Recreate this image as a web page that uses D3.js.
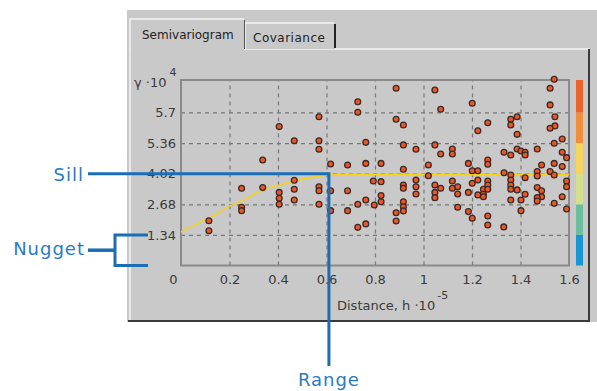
<!DOCTYPE html>
<html lang="en">
<head>
<meta charset="utf-8">
<title>Semivariogram</title>
<script src="https://d3js.org/d3.v7.min.js"></script>
<style>
  body { margin: 0; background: #fff; }
  svg text { font-family: "DejaVu Sans", sans-serif; }
</style>
</head>
<body>
<div id="chart"></div>
<script>
// binned semivariogram values: distance (x10^-5) and gamma (x10^4)
var distances = [
  0.337, 0.25, 0.337, 0.25, 0.25, 0.115, 0.115,
  0.729, 0.729, 0.569, 0.405, 0.467, 0.569, 0.569, 0.762, 0.617, 0.687, 0.762,
  0.467, 0.467, 0.467, 0.405, 0.405, 0.405, 0.569, 0.569, 0.569, 0.617, 0.687,
  0.617, 0.687, 0.729, 0.762, 0.762, 0.729,
  0.887, 1.047, 1.071, 0.887, 0.917, 0.917, 1.047, 0.969, 1.071, 1.119, 1.119,
  0.825, 1.020, 0.917, 1.185, 1.020, 0.793, 0.825, 0.917, 0.917, 0.969, 0.969,
  0.969, 1.047, 1.047, 1.047, 1.071, 1.119, 1.119, 1.141, 1.141, 1.185, 0.825,
  0.825, 0.797, 0.917, 0.917, 0.917, 0.887, 0.887, 1.141, 1.185,
  1.539, 1.522, 1.201, 1.522, 1.386, 1.360, 1.360, 1.542, 1.265, 1.542, 1.522,
  1.224, 1.386, 1.572, 1.539, 1.469, 1.386, 1.402, 1.419, 1.419, 1.332, 1.360,
  1.572, 1.590, 1.265, 1.265, 1.539, 1.487, 1.572, 1.201, 1.224, 1.332, 1.469,
  1.469, 1.522, 1.539, 1.360, 1.360, 1.360, 1.360, 1.419, 1.224, 1.201, 1.265,
  1.265, 1.590, 1.590, 1.469, 1.247, 1.265, 1.247, 1.386, 1.487, 1.487, 1.224,
  1.247, 1.419, 1.469, 1.469, 1.572, 1.360, 1.402, 1.539, 1.590, 1.402, 1.201,
  1.265, 1.265, 1.331
];
var gammas = [
  4.62, 3.38, 3.41, 2.55, 2.40, 1.96, 1.52,
  7.17, 6.71, 6.51, 6.08, 5.46, 5.46, 5.09, 5.39, 4.44, 4.40, 4.47,
  3.73, 3.34, 2.87, 3.20, 2.94, 2.68, 3.45, 3.27, 2.68, 3.27, 3.27,
  2.40, 2.40, 2.68, 2.87, 1.82, 1.67,
  7.76, 7.68, 6.84, 6.40, 6.15, 5.28, 5.28, 5.09, 4.88, 5.10, 4.88,
  4.47, 4.40, 4.21, 4.47, 3.93, 3.70, 3.67, 3.52, 3.38, 3.74, 3.45,
  3.13, 3.52, 3.20, 2.97, 3.38, 3.70, 3.38, 3.45, 3.13, 3.20, 3.06,
  2.79, 2.65, 2.79, 2.57, 2.39, 2.31, 1.95, 2.55, 2.36,
  8.15, 7.76, 7.10, 7.03, 6.51, 6.40, 6.15, 6.51, 6.25, 6.11, 6.01,
  5.90, 5.74, 5.54, 5.35, 5.10, 5.10, 5.01, 4.96, 4.84, 4.96, 4.84,
  4.96, 4.72, 4.62, 4.43, 4.47, 4.40, 4.33, 4.15, 4.15, 4.06, 4.11,
  3.92, 4.11, 3.96, 3.96, 3.74, 3.52, 3.34, 3.84, 3.74, 3.60, 3.70,
  3.52, 3.70, 3.45, 3.41, 3.34, 3.34, 3.12, 3.31, 3.27, 3.01, 3.09,
  3.01, 3.12, 2.97, 2.82, 3.01, 2.87, 2.87, 2.72, 2.47, 2.40, 2.07,
  2.17, 1.77, 1.69
];

// fitted model curve
var modelH     = [0, 0.04, 0.08, 0.12, 0.16, 0.20, 0.25, 0.30, 0.35, 0.40, 0.45, 0.50, 0.55, 0.60, 0.65, 1.60];
var modelGamma = [1.46, 1.68, 1.90, 2.08, 2.36, 2.60, 2.82, 3.12, 3.38, 3.50, 3.66, 3.78, 3.88, 3.96, 3.98, 3.98];

var xTicks = [0, 0.2, 0.4, 0.6, 0.8, 1, 1.2, 1.4, 1.6];
var xTickLabels = ["0", "0.2", "0.4", "0.6", "0.8", "1", "1.2", "1.4", "1.6"];
var yTicks = [1.34, 2.68, 4.02, 5.36, 6.70];
var yTickLabels = ["1.34", "2.68", "4.02", "5.36", "5.7"];

var legendBreaks = [0, 1.34, 2.68, 4.02, 5.36, 6.70, 8.12];
var legendColors = ["#1798d4", "#6abf9c", "#d6df8c", "#f7d45c", "#f28d3a", "#ec6329"];

var sillValue = 4.02;
var rangeValue = 0.61;
var nuggetValue = 1.34;

var w = 597, h = 391;
var blue = "#1b6db6", textBlue = "#2a7bc3";

var svg = d3.select("#chart").append("svg")
    .attr("width", w)
    .attr("height", h);

svg.append("rect").attr("width", w).attr("height", h).attr("fill", "#fff");

// window + tab page
svg.append("rect").attr("x", 127).attr("y", 10).attr("width", 470).attr("height", 312).attr("fill", "#c9c9c9");
svg.append("path").attr("d", "M130,321V49H589").attr("fill", "none").attr("stroke", "#f4f4f4").attr("stroke-width", 1.5);
svg.append("path").attr("d", "M589,49V321H128").attr("fill", "none").attr("stroke", "#3a3a3a").attr("stroke-width", 2);

// tabs
svg.append("path").attr("d", "M245,49V23H335V49").attr("fill", "#c9c9c9").attr("stroke", "none");
svg.append("path").attr("d", "M245,49V23H334").attr("fill", "none").attr("stroke", "#f4f4f4").attr("stroke-width", 1.5);
svg.append("path").attr("d", "M335,24V48").attr("fill", "none").attr("stroke", "#222").attr("stroke-width", 2);
svg.append("path").attr("d", "M130,50V19H244").attr("fill", "#c9c9c9").attr("stroke", "#f4f4f4").attr("stroke-width", 1.5);
svg.append("path").attr("d", "M244.5,20V49").attr("fill", "none").attr("stroke", "#555").attr("stroke-width", 1);
svg.append("line").attr("x1", 131).attr("x2", 244).attr("y1", 49).attr("y2", 49).attr("stroke", "#c9c9c9").attr("stroke-width", 2);
svg.append("text").attr("x", 142).attr("y", 39).attr("font-size", 12).attr("fill", "#222").text("Semivariogram");
svg.append("text").attr("x", 253).attr("y", 42).attr("font-size", 12).attr("letter-spacing", 0.5).attr("fill", "#222").text("Covariance");

var xScale = d3.scaleLinear().domain([0, 1.6]).range([181, 569]);
var yScale = d3.scaleLinear().domain([0, 8.12]).range([265.5, 80]);

// grid
var gridX = d3.axisBottom(xScale).tickValues(xTicks.slice(1, -1)).tickSize(-(265.5 - 80)).tickFormat("");
svg.append("g").attr("transform", "translate(0,265.5)").call(gridX)
   .call(function(g) {
     g.select(".domain").remove();
     g.selectAll("line").attr("stroke", "#777").attr("stroke-width", 1.2).attr("stroke-dasharray", "4,4");
   });
var gridY = d3.axisLeft(yScale).tickValues(yTicks).tickSize(-(569 - 181)).tickFormat("");
svg.append("g").attr("transform", "translate(181,0)").call(gridY)
   .call(function(g) {
     g.select(".domain").remove();
     g.selectAll("line").attr("stroke", "#777").attr("stroke-width", 1.2).attr("stroke-dasharray", "4,4");
   });

svg.append("rect").attr("x", 181).attr("y", 80).attr("width", 388).attr("height", 185.5)
   .attr("fill", "none").attr("stroke", "#8a8a8a").attr("stroke-width", 2);

// tick labels
var xAxis = d3.axisBottom(xScale).tickValues(xTicks).tickSize(0).tickPadding(9)
    .tickFormat(function(d, i) { return xTickLabels[i]; });
svg.append("g").attr("class", "axis").attr("transform", "translate(0,266)").call(xAxis)
   .call(function(g) {
     g.select(".domain").remove();
     g.selectAll("text").attr("font-size", 13).attr("fill", "#3a3a3a").attr("font-family", "DejaVu Sans");
     g.select(".tick text").attr("dx", -8);
   });
var yAxis = d3.axisLeft(yScale).tickValues(yTicks).tickSize(0).tickPadding(5)
    .tickFormat(function(d, i) { return yTickLabels[i]; });
svg.append("g").attr("class", "axis").attr("transform", "translate(181,0)").call(yAxis)
   .call(function(g) {
     g.select(".domain").remove();
     g.selectAll("text").attr("font-size", 13).attr("fill", "#3a3a3a").attr("font-family", "DejaVu Sans");
   });

// axis titles
var yt = svg.append("text").attr("x", 134).attr("y", 87).attr("font-size", 13).attr("fill", "#3a3a3a");
yt.append("tspan").text("γ ·10");
yt.append("tspan").attr("dx", 3).attr("dy", -11).attr("font-size", 11).text("4");
var xt = svg.append("text").attr("x", 337).attr("y", 310).attr("font-size", 13).attr("fill", "#3a3a3a");
xt.append("tspan").text("Distance, h ·10");
xt.append("tspan").attr("dx", 2).attr("dy", -11).attr("font-size", 11).text("-5");

// color bar
svg.selectAll("rect.legend")
   .data(legendColors)
   .enter()
   .append("rect")
   .attr("class", "legend")
   .attr("x", 576)
   .attr("width", 7)
   .attr("y", function(d, i) { return yScale(legendBreaks[i + 1]); })
   .attr("height", function(d, i) { return yScale(legendBreaks[i]) - yScale(legendBreaks[i + 1]); })
   .attr("fill", function(d) { return d; });

// model curve
var line = d3.line()
    .x(function(d, i) { return xScale(modelH[i]); })
    .y(function(d) { return yScale(d); });
svg.append("path").datum(modelGamma).attr("d", line)
   .attr("fill", "none").attr("stroke", "#f3d21f").attr("stroke-width", 1.6);

// points
svg.selectAll("circle.pt")
   .data(gammas)
   .enter()
   .append("circle")
   .attr("class", "pt")
   .attr("cx", function(d, i) { return xScale(distances[i]); })
   .attr("cy", function(d) { return yScale(d); })
   .attr("r", 2.9)
   .attr("fill", "#ee5526")
   .attr("stroke", "#3a2a24")
   .attr("stroke-width", 1.3);

// annotations
var sillY = yScale(sillValue), rangeX = xScale(rangeValue);
svg.append("path").attr("d", "M88," + sillY + "H" + rangeX + "V366")
   .attr("fill", "none").attr("stroke", blue).attr("stroke-width", 3);
var nTop = yScale(nuggetValue), nBot = yScale(0);
svg.append("path").attr("d", "M148," + nTop + "H115V" + nBot + "H148")
   .attr("fill", "none").attr("stroke", blue).attr("stroke-width", 3);
svg.append("line").attr("x1", 88).attr("x2", 115).attr("y1", (nTop + nBot) / 2).attr("y2", (nTop + nBot) / 2)
   .attr("stroke", blue).attr("stroke-width", 3.5);

svg.append("text").attr("x", 84).attr("y", 181).attr("text-anchor", "end").attr("font-size", 18)
   .attr("letter-spacing", 1).attr("fill", textBlue).text("Sill");
svg.append("text").attr("x", 85).attr("y", 255).attr("text-anchor", "end").attr("font-size", 18)
   .attr("letter-spacing", 1).attr("fill", textBlue).text("Nugget");
svg.append("text").attr("x", rangeX).attr("y", 386).attr("text-anchor", "middle").attr("font-size", 18)
   .attr("letter-spacing", 1).attr("fill", textBlue).text("Range");
</script>
</body>
</html>
